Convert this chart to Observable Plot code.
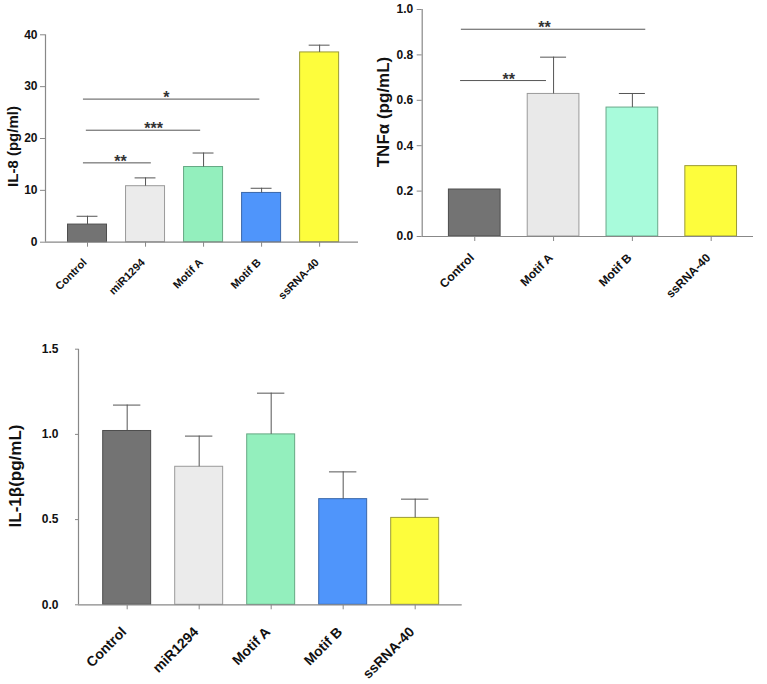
<!DOCTYPE html>
<html>
<head>
<meta charset="utf-8">
<script src="https://cdn.jsdelivr.net/npm/d3@7"></script>
<script src="https://cdn.jsdelivr.net/npm/@observablehq/plot@0.6"></script>
<style>
  html, body { margin: 0; padding: 0; background: #fff; }
  #root { position: relative; width: 767px; height: 684px; background: #fff; overflow: hidden; }
  .panel { position: absolute; }
  .panel svg { overflow: visible; }
</style>
</head>
<body>
<div id="root"></div>
<script>
// ---------- Panel A: IL-8 ----------
const il8Categories = ["Control", "miR1294", "Motif A", "Motif B", "ssRNA-40"];
const il8Values = [3.4, 10.8, 14.5, 9.5, 36.6];
const il8Errors = [1.6, 1.6, 2.7, 0.9, 1.4];
const il8Fills = ["#737373", "#ebebeb", "#93efbd", "#4f95fb", "#fdfd3c"];
const il8Borders = ["#4d4d4d", "#9a9a9a", "#66a884", "#3a67aa", "#9b9b36"];
const il8Ticks = [0, 10, 20, 30, 40];
const il8SigFrom = [-0.07, -0.02, -0.07];
const il8SigTo = [1.10, 1.95, 2.97];
const il8SigLevel = [15.3, 21.6, 27.6];
const il8SigLabel = ["**", "***", "*"];
const il8StarAt = [0.57, 1.14, 1.36];

// ---------- Panel B: TNFα ----------
const tnfCategories = ["Control", "Motif A", "Motif B", "ssRNA-40"];
const tnfValues = [0.207, 0.628, 0.568, 0.31];
const tnfErrors = [0, 0.162, 0.062, 0];
const tnfFills = ["#737373", "#e9e9e9", "#a8fbdb", "#fdfd3c"];
const tnfBorders = ["#4d4d4d", "#9a9a9a", "#6aa88a", "#9b9b36"];
const tnfTicks = [0, 0.2, 0.4, 0.6, 0.8, 1.0];
const tnfSigFrom = [-0.18, -0.17];
const tnfSigTo = [0.91, 2.17];
const tnfSigLevel = [0.687, 0.913];
const tnfSigLabel = ["**", "**"];
const tnfStarAt = [0.43, 0.885];

// ---------- Panel C: IL-1β ----------
const il1bCategories = ["Control", "miR1294", "Motif A", "Motif B", "ssRNA-40"];
const il1bValues = [1.02, 0.81, 1.0, 0.62, 0.51];
const il1bErrors = [0.152, 0.18, 0.242, 0.16, 0.11];
const il1bFills = ["#737373", "#ebebeb", "#93efbd", "#4f95fb", "#fdfd3c"];
const il1bBorders = ["#4d4d4d", "#9a9a9a", "#66a884", "#3a67aa", "#9b9b36"];
const il1bTicks = [0, 0.5, 1.0, 1.5];

const FONT = "'Liberation Sans', Arial, Helvetica, sans-serif";

function panel(cfg) {
  const rows = cfg.categories.map((c, i) => ({
    i, category: c, value: cfg.values[i], err: cfg.errors[i],
    fill: cfg.fills[i], border: cfg.borders[i]
  }));
  const errRows = rows.filter(d => d.err > 0);
  const sigRows = (cfg.sigLabel || []).map((s, k) => ({
    from: cfg.sigFrom[k], to: cfg.sigTo[k], level: cfg.sigLevel[k], label: s, at: cfg.starAt[k]
  }));
  const bh = cfg.barHalf, ch = cfg.capHalf;
  const chart = Plot.plot({
    width: cfg.width, height: cfg.height,
    marginLeft: cfg.ml, marginRight: cfg.mr, marginTop: cfg.mt, marginBottom: cfg.mb,
    x: {type: "linear", domain: cfg.xDomain, label: null},
    y: {type: "linear", domain: [0, cfg.yTicks[cfg.yTicks.length - 1]], label: null},
    color: {type: "identity"},
    style: {fontFamily: FONT, fontWeight: "bold", background: "transparent", overflow: "visible", color: "#111"},
    marks: [
      Plot.rect(rows, {
        x1: d => d.i - bh, x2: d => d.i + bh, y1: d => 0, y2: "value",
        fill: "fill", stroke: "border", strokeWidth: 1
      }),
      Plot.ruleX(errRows, {x: "i", y1: "value", y2: d => d.value + d.err, stroke: "#555", strokeWidth: 1}),
      Plot.ruleY(errRows, {y: d => d.value + d.err, x1: d => d.i - ch, x2: d => d.i + ch, stroke: "#555", strokeWidth: 1}),
      Plot.ruleY([0], {stroke: "#888", strokeWidth: 1.2}),
      Plot.ruleX([cfg.xDomain[0]], {stroke: "#888", strokeWidth: 1.2}),
      Plot.axisY({
        ticks: cfg.yTicks, tickFormat: cfg.yFormat, tickSize: cfg.yTickSize, tickPadding: cfg.yPad,
        stroke: "#888", fill: "#111", fontSize: cfg.tickFont, label: null
      }),
      Plot.axisX({
        ticks: rows.map(d => d.i), tickFormat: () => "", tickSize: 5,
        stroke: "#888", label: null
      }),
      Plot.text(rows, {
        x: "i", text: "category", frameAnchor: "bottom", rotate: -45, textAnchor: "end",
        dy: cfg.xLabelDy, fontSize: cfg.xFont, fill: "#111"
      }),
      Plot.ruleY(sigRows, {y: "level", x1: "from", x2: "to", stroke: "#555", strokeWidth: 1}),
      Plot.text(sigRows, {x: "at", y: "level", text: "label", dy: -1, fontSize: 16, fill: "#333"}),
      Plot.text([cfg.yLabel], {
        text: d => d, frameAnchor: "left", rotate: -90, textAnchor: "middle",
        dx: cfg.labelDx, dy: cfg.labelDy, fontSize: cfg.labelFont, fill: "#111"
      })
    ]
  });
  const wrap = document.createElement("div");
  wrap.className = "panel";
  wrap.style.left = cfg.left + "px";
  wrap.style.top = cfg.top + "px";
  wrap.appendChild(chart);
  document.getElementById("root").appendChild(wrap);
}

panel({
  left: 0, top: 0, width: 370, height: 320,
  ml: 45, mr: 12, mt: 34.3, mb: 78.3,
  xDomain: [-0.724, 4.67], barHalf: 0.336, capHalf: 0.18,
  categories: il8Categories, values: il8Values, errors: il8Errors,
  fills: il8Fills, borders: il8Borders,
  yTicks: il8Ticks, yFormat: d => String(d), yTickSize: 5, yPad: 3,
  sigFrom: il8SigFrom, sigTo: il8SigTo, sigLevel: il8SigLevel, sigLabel: il8SigLabel, starAt: il8StarAt,
  yLabel: "IL-8 (pg/ml)", labelDx: -32, labelDy: 8, labelFont: 15,
  tickFont: 12, xFont: 11, xLabelDy: 21
});

panel({
  left: 370, top: 0, width: 397, height: 320,
  ml: 51.7, mr: 14, mt: 9, mb: 84,
  xDomain: [-0.667, 3.537], barHalf: 0.328, capHalf: 0.165,
  categories: tnfCategories, values: tnfValues, errors: tnfErrors,
  fills: tnfFills, borders: tnfBorders,
  yTicks: tnfTicks, yFormat: d3.format(".1f"), yTickSize: 5, yPad: 4,
  sigFrom: tnfSigFrom, sigTo: tnfSigTo, sigLevel: tnfSigLevel, sigLabel: tnfSigLabel, starAt: tnfStarAt,
  yLabel: "TNFα (pg/mL)", labelDx: -39, labelDy: -11, labelFont: 17,
  tickFont: 12, xFont: 12, xLabelDy: 22
});

panel({
  left: 0, top: 320, width: 480, height: 364,
  ml: 78, mr: 18.3, mt: 28.7, mb: 79.7,
  xDomain: [-0.676, 4.653], barHalf: 0.333, capHalf: 0.19,
  categories: il1bCategories, values: il1bValues, errors: il1bErrors,
  fills: il1bFills, borders: il1bBorders,
  yTicks: il1bTicks, yFormat: d3.format(".1f"), yTickSize: 3, yPad: 17,
  yLabel: "IL-1β(pg/mL)", labelDx: -63, labelDy: -1, labelFont: 17,
  tickFont: 12, xFont: 14, xLabelDy: 28
});
</script>
</body>
</html>
